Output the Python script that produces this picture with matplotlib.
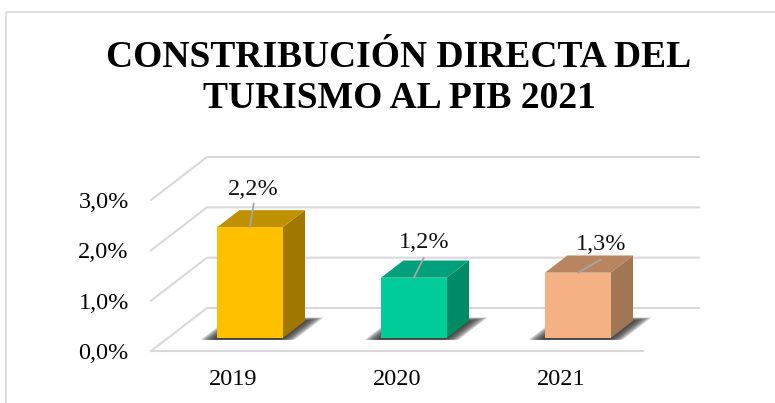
import matplotlib
matplotlib.use('Agg')
import matplotlib.pyplot as plt
from matplotlib.lines import Line2D
from matplotlib.patches import Polygon

years = ['2019', '2020', '2021']
values = [2.2, 1.2, 1.3]
value_labels = ['2,2%', '1,2%', '1,3%']
y_ticks = [0, 1, 2, 3]
y_tick_labels = ['0,0%', '1,0%', '2,0%', '3,0%']
title = 'CONSTRIBUCIÓN DIRECTA DEL\nTURISMO AL PIB 2021'

front_colors = ['#FFC000', '#00CC99', '#F4B183']
top_colors = ['#BF9000', '#00A07A', '#B98560']
side_colors = ['#A07800', '#008A66', '#A07655']

# label and leader line offsets from the bar top, in pixels
label_off = [(3, 38), (10, 35), (23, 28)]
leader_off = [(4, 24), (10, 20), (23, 13)]

plt.rcParams['font.family'] = ['Liberation Serif', 'DejaVu Serif']

W, H = 775, 403
fig = plt.figure(figsize=(W / 100, H / 100), dpi=100)
ax = fig.add_axes([151 / W, (H - 351) / H, 492 / W, 151 / H])
ax.set_xlim(-0.5, 2.5)
ax.set_ylim(0, 3)

# oblique depth of the fake 3d box
dx = 56 / 164
dy = 43 / 50.33
grid_col = '#D9D9D9'
bar_w = 0.2
d1, d2 = 0.30, 0.70


def pt(x, v, d):
    return (x + d * dx, v + d * dy)


for s in ax.spines.values():
    s.set_visible(False)
ax.patch.set_alpha(0)
ax.set_xticks(range(3))
ax.set_xticklabels(years, fontsize=17.5)
ax.set_yticks(y_ticks)
ax.set_yticklabels(y_tick_labels, fontsize=17.5)
ax.tick_params(length=0)
ax.tick_params(axis='x', pad=13)
ax.tick_params(axis='y', pad=16)

# walls
ax.plot([-0.5, 2.5], [0, 0], color=grid_col, lw=1.5, clip_on=False, zorder=1)
for t in y_ticks:
    a = pt(-0.5, t, 0)
    b = pt(-0.5, t, 1)
    c = pt(2.5, t, 1)
    ax.plot([a[0], b[0], c[0]], [a[1], b[1], c[1]], color=grid_col, lw=1.5,
            clip_on=False, zorder=1, solid_joinstyle='miter')

for i, v in enumerate(values):
    # soft shadow on the floor
    for k in range(8):
        hw = 0.285 - 0.012 * k
        far = d2 + 0.08 - 0.012 * k
        sh = [pt(i - hw, 0, d1 - 0.04), pt(i + hw, 0, d1 - 0.04),
              pt(i + hw, 0, far), pt(i - hw, 0, far)]
        ax.add_patch(Polygon(sh, closed=True, fc='#303030', ec='none', alpha=0.24,
                             clip_on=False, zorder=2))

    # three faces
    front = [pt(i - bar_w, 0, d1), pt(i + bar_w, 0, d1), pt(i + bar_w, v, d1), pt(i - bar_w, v, d1)]
    side = [pt(i + bar_w, 0, d1), pt(i + bar_w, 0, d2), pt(i + bar_w, v, d2), pt(i + bar_w, v, d1)]
    top = [pt(i - bar_w, v, d1), pt(i + bar_w, v, d1), pt(i + bar_w, v, d2), pt(i - bar_w, v, d2)]
    ax.add_patch(Polygon(side, closed=True, fc=side_colors[i], ec='none', clip_on=False, zorder=3))
    ax.add_patch(Polygon(top, closed=True, fc=top_colors[i], ec='none', clip_on=False, zorder=3))
    ax.add_patch(Polygon(front, closed=True, fc=front_colors[i], ec='none', clip_on=False, zorder=4))

    # value label with leader line
    anchor = pt(i, v, d1)
    ax.annotate('', xy=anchor, xytext=leader_off[i], textcoords='offset pixels',
                annotation_clip=False, zorder=5,
                arrowprops=dict(arrowstyle='-', color='#A6A6A6', lw=1.3, shrinkA=0, shrinkB=0))
    ax.annotate(value_labels[i], xy=anchor, xytext=label_off[i], textcoords='offset pixels',
                ha='center', va='center', fontsize=17.5, color='#111111',
                annotation_clip=False, zorder=6)

fig.text(399 / W, 1 - 78 / H, title, ha='center', va='center', fontsize=27,
         fontweight='bold', color='black', linespacing=1.21)

# chart frame, cut by the image on the right and bottom
fig.add_artist(Line2D([6 / W, 6 / W, 1], [0, 1 - 12 / H, 1 - 12 / H], color=grid_col, lw=1.2))

fig.savefig('out.png', dpi=100)
